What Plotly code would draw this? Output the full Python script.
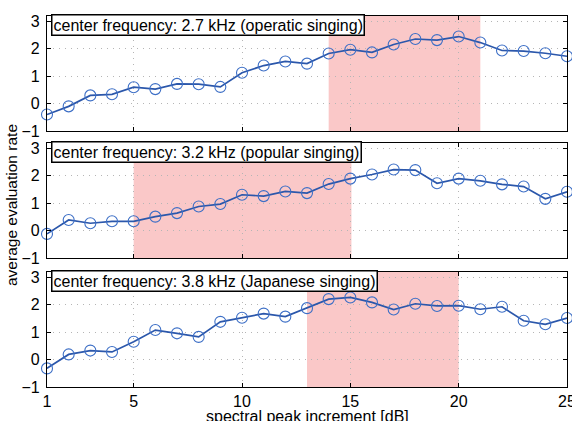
import plotly.graph_objects as go

x_vals = list(range(1, 26))

y_operatic = [-0.40, -0.10, 0.30, 0.34, 0.60, 0.53, 0.72, 0.71, 0.61, 1.13,
              1.39, 1.54, 1.46, 1.83, 1.97, 1.87, 2.16, 2.36, 2.32, 2.45,
              2.23, 1.94, 1.92, 1.84, 1.73]
y_popular = [-0.12, 0.39, 0.27, 0.34, 0.34, 0.51, 0.64, 0.88, 0.97, 1.31,
             1.26, 1.43, 1.37, 1.70, 1.90, 2.05, 2.23, 2.21, 1.73, 1.90,
             1.82, 1.69, 1.61, 1.16, 1.42]
y_japanese = [-0.32, 0.19, 0.33, 0.28, 0.65, 1.08, 0.96, 0.83, 1.38, 1.53,
              1.68, 1.57, 1.88, 2.21, 2.27, 2.09, 1.83, 2.04, 1.96, 1.97,
              1.84, 1.93, 1.42, 1.29, 1.52]

series = [y_operatic, y_popular, y_japanese]
labels = ["center frequency: 2.7 kHz (operatic singing)",
          "center frequency: 3.2 kHz (popular singing)",
          "center frequency: 3.8 kHz (Japanese singing)"]
shade_ranges = [(14, 21), (5, 15.05), (13, 20)]

x_ticks = [1, 5, 10, 15, 20, 25]
y_ticks = [-1, 0, 1, 2, 3]

W, H = 572, 421
panels_px = [(16, 131), (143, 258), (272, 387)]

fig = go.Figure()
font = dict(family="Liberation Sans, Arial, sans-serif", size=16, color="black")

for i, (ys, lab, (s0, s1), (top, bot)) in enumerate(zip(series, labels, shade_ranges, panels_px)):
    n = i + 1
    xa = "x" if n == 1 else f"x{n}"
    ya = "y" if n == 1 else f"y{n}"
    fig.add_trace(go.Scatter(
        x=x_vals, y=ys, xaxis=xa, yaxis=ya, mode="lines+markers",
        line=dict(color="#2b57ab", width=1.7),
        marker=dict(symbol="circle-open", size=11, color="#3d6fc6", line=dict(width=1.1)),
        showlegend=False, cliponaxis=False))
    fig.add_shape(type="rect", xref=xa, yref=f"{ya} domain", x0=s0, x1=s1, y0=0, y1=1,
                  fillcolor="rgb(250,200,200)", line=dict(width=0), layer="below")
    dom = [1 - bot / H, 1 - top / H]
    xkey = "xaxis" if n == 1 else f"xaxis{n}"
    ykey = "yaxis" if n == 1 else f"yaxis{n}"
    common = dict(showline=True, linecolor="black", linewidth=1.3, mirror="allticks",
                  ticks="inside", ticklen=4, tickcolor="black",
                  showgrid=True, gridcolor="#b5b5b5", griddash="1px,5px", gridwidth=1,
                  zeroline=False, tickfont=font, automargin=False,
                  ticklabeloverflow="allow")
    fig.update_layout({
        xkey: dict(common, domain=[0, 1], range=[1, 25], tickvals=x_ticks,
                   showticklabels=(n == 3), anchor=ya,
                   **({} if n == 1 else {"matches": "x"})),
        ykey: dict(common, domain=dom, range=[-1, 3.2], tickvals=y_ticks,
                   anchor=xa, ticklabelstandoff=3),
    })
    fig.add_annotation(text=lab, xref=xa, yref=f"{ya} domain", x=1.18, y=1 + 2.5 / 115,
                       xanchor="left", yanchor="top", showarrow=False,
                       font=font, bgcolor="white", bordercolor="black",
                       borderwidth=1.5, borderpad=1)

fig.add_annotation(text="average evaluation rate", xref="paper", yref="paper",
                   x=-36 / 520, y=1 - 205 / H, textangle=-90, showarrow=False,
                   font=dict(font, size=15.5), xanchor="center", yanchor="middle")
fig.add_annotation(text="spectral peak increment [dB]", xref="paper", yref="paper",
                   x=0.5, y=1 - 416 / H, showarrow=False,
                   font=dict(font, size=16), xanchor="center", yanchor="middle")

fig.update_layout(width=W, height=H, margin=dict(l=47, r=5, t=0, b=0),
                  plot_bgcolor="white", paper_bgcolor="white")
fig.write_html("out.html", config={"displayModeBar": False},
               post_script="document.body.style.margin='0';document.body.style.overflow='hidden';")
